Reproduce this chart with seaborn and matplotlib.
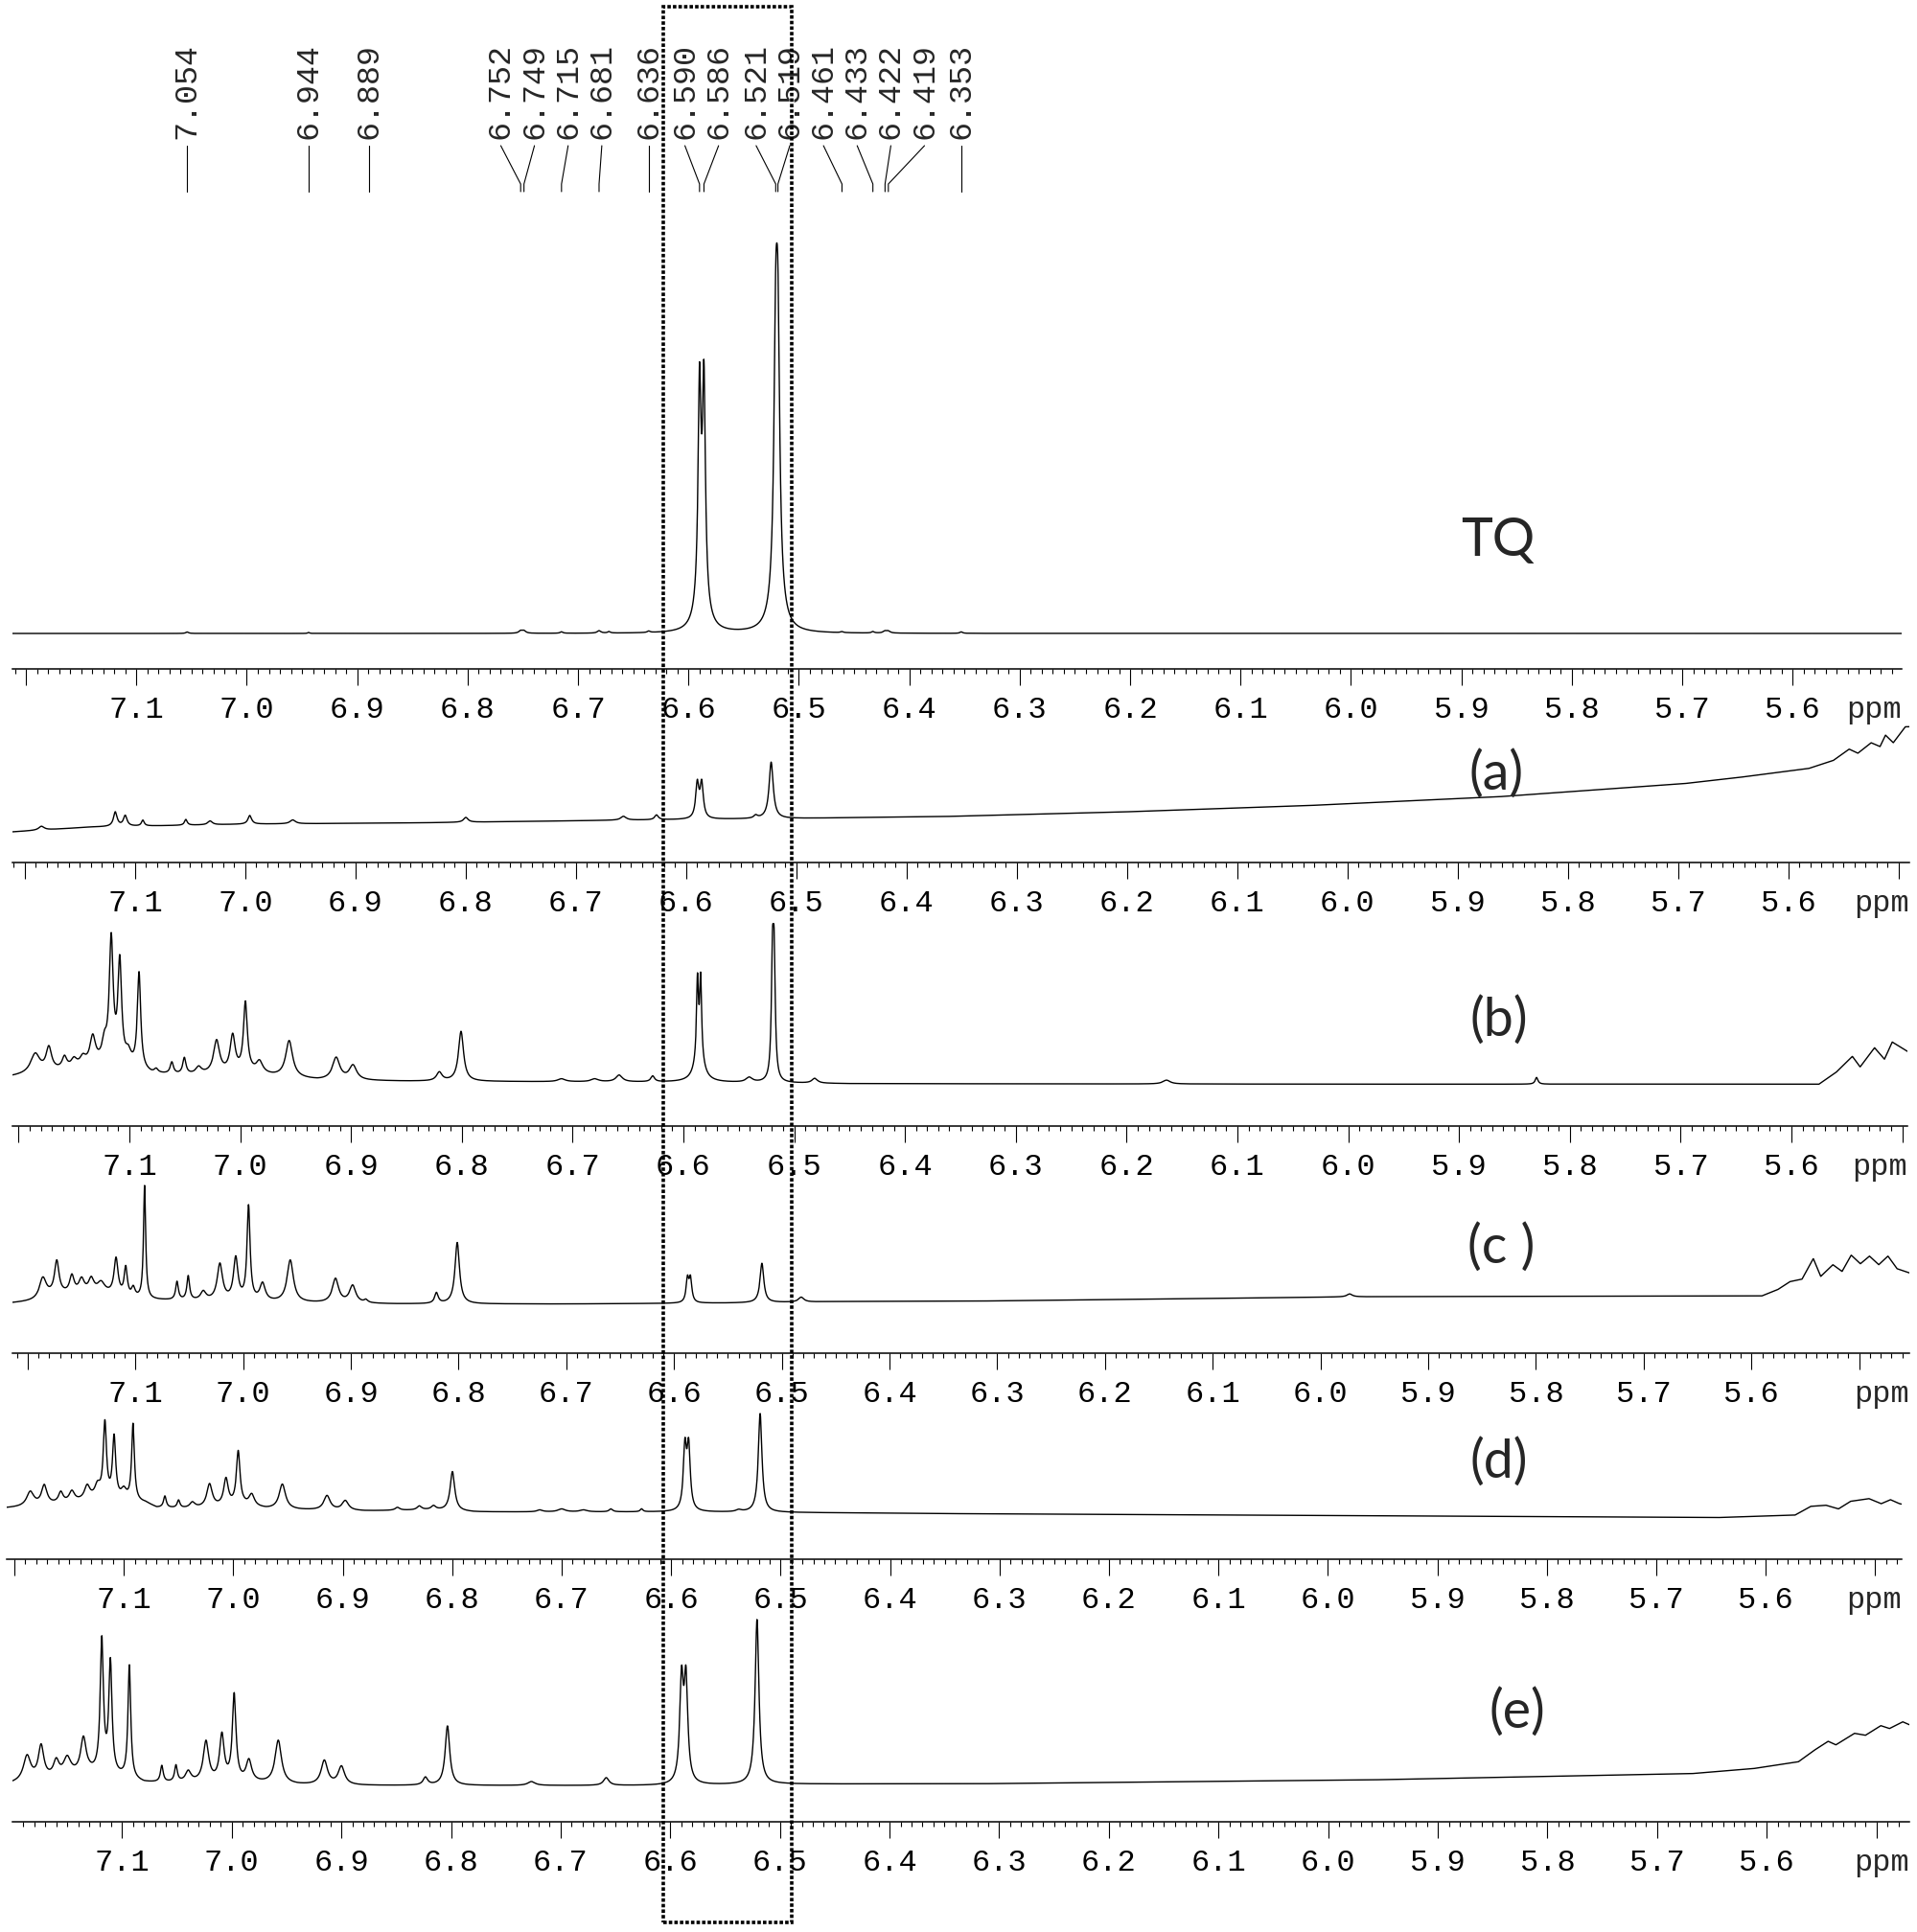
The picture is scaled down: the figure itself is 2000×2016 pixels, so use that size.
import numpy as np
import pandas as pd
import seaborn as sns
import matplotlib.pyplot as plt
from matplotlib import transforms
from matplotlib.patches import Rectangle
from matplotlib.ticker import MultipleLocator, FuncFormatter

sns.set_theme(style='white')
plt.rcParams['font.family'] = ['Liberation Mono', 'DejaVu Sans']

# peak list printed above the TQ spectrum
tq_labels = [7.054, 6.944, 6.889, 6.752, 6.749, 6.715, 6.681, 6.636, 6.590,
             6.586, 6.521, 6.519, 6.461, 6.433, 6.422, 6.419, 6.353]

# each spectrum: lines (ppm, height, FWHM in ppm) + baseline (ppm, level)
tq_ppm = [7.054, 6.944, 6.752, 6.749, 6.715, 6.681, 6.672, 6.636, 6.590, 6.586, 6.588,
          6.521, 6.519, 6.520, 6.461, 6.433, 6.422, 6.419, 6.353]
tq_height = [1.5, 1.0, 2.5, 2.5, 1.5, 2.5, 1.5, 1.5, 215, 218, 45,
             228, 228, 50, 1.0, 1.5, 2.0, 2.0, 1.5]
tq_width = [0.003, 0.002, 0.004, 0.004, 0.003, 0.004, 0.003, 0.003, 0.0031, 0.0031, 0.010,
            0.0038, 0.0038, 0.010, 0.003, 0.003, 0.004, 0.004, 0.003]
tq_base_ppm = [7.23, 5.44]
tq_base_level = [36.7, 36.7]

a_ppm = [7.185, 7.118, 7.109, 7.093, 7.054, 7.032, 6.996, 6.957, 6.800, 6.657, 6.627,
         6.590, 6.586, 6.537, 6.523]
a_height = [4, 15, 11, 6, 6, 4, 9, 4, 5, 4, 5, 36, 36, 3, 59]
a_width = [0.006, 0.004, 0.004, 0.003, 0.003, 0.005, 0.004, 0.006, 0.005, 0.006, 0.004,
           0.0035, 0.0035, 0.004, 0.0045]
a_base_ppm = [7.215, 7.14, 7.0, 6.835, 6.67, 6.5, 6.355, 6.188, 6.023, 5.857, 5.691, 5.636,
              5.581, 5.559, 5.545, 5.537, 5.525, 5.517, 5.512, 5.505, 5.494]
a_base_level = [31.7, 37, 40, 41.5, 44, 46, 48.2, 53.3, 60, 69, 82.7, 90,
                98.3, 106.7, 118.3, 114, 125, 121, 133, 125, 141.7]

b_ppm = [7.185, 7.1727, 7.1586, 7.150, 7.142, 7.1331, 7.1225, 7.1164, 7.1087, 7.101,
         7.0913, 7.0758, 7.0617, 7.0504, 7.0375, 7.0213, 7.0068, 6.9953, 6.9826, 6.9558,
         6.9134, 6.8982, 6.8203, 6.8007, 6.71, 6.68, 6.658, 6.6277,
         6.5873, 6.5844, 6.5858, 6.5406, 6.5196, 6.5181, 6.4815, 6.164, 5.830]
b_height = [20, 24, 12, 8, 8, 28, 18, 128, 105, 12,
            100, 4, 12, 17, 7, 34, 38, 72, 12, 38,
            23, 15, 9, 52, 3, 3, 7, 6,
            79, 79, 30, 5, 115, 115, 5, 4, 7]
b_width = [0.010, 0.006, 0.005, 0.006, 0.006, 0.006, 0.005, 0.0042, 0.0040, 0.006,
           0.0036, 0.004, 0.0035, 0.0035, 0.006, 0.0065, 0.0055, 0.0042, 0.007, 0.0075,
           0.008, 0.008, 0.006, 0.0055, 0.008, 0.008, 0.007, 0.004,
           0.002, 0.002, 0.009, 0.007, 0.0024, 0.0024, 0.006, 0.008, 0.003]
b_base_ppm = [7.205, 7.16, 7.14, 7.125, 7.10, 7.08, 7.05, 6.99, 6.97, 6.93, 6.85, 6.6, 6.45,
              6.0, 5.575, 5.559, 5.545, 5.538, 5.525, 5.516, 5.509, 5.495]
b_base_level = [52, 58, 62, 64, 60, 54, 53, 55, 52, 48, 47, 46, 44.5,
                44, 44, 57, 73, 62, 82, 70, 88, 78]

c_ppm = [7.186, 7.173, 7.159, 7.150, 7.141, 7.132, 7.118, 7.109, 7.102, 7.0915,
         7.0614, 7.051, 7.037, 7.0216, 7.0069, 6.995, 6.982, 6.9563, 6.9143, 6.8984,
         6.886, 6.8206, 6.8013, 6.5876, 6.5848, 6.5185, 6.482, 5.973]
c_height = [22, 34, 18, 14, 14, 10, 38, 30, 10, 118,
            19, 25, 9, 38, 44, 98, 18, 44, 25, 18,
            3, 11, 64, 24, 24, 41, 5, 3]
c_width = [0.008, 0.005, 0.005, 0.006, 0.006, 0.008, 0.0045, 0.0035, 0.004, 0.0024,
           0.003, 0.003, 0.006, 0.006, 0.005, 0.0034, 0.006, 0.007, 0.007, 0.007,
           0.004, 0.004, 0.005, 0.003, 0.003, 0.0042, 0.006, 0.006]
c_base_ppm = [7.214, 7.19, 7.175, 7.13, 7.105, 7.085, 7.05, 6.95, 6.86, 6.7, 6.55, 6.45,
              6.3, 5.973, 5.59, 5.575, 5.564, 5.553, 5.5426, 5.5357, 5.5244, 5.5159,
              5.5074, 5.4989, 5.4904, 5.4818, 5.4733, 5.4648, 5.4535]
c_base_level = [52, 54, 60, 62, 56, 55, 54, 52, 51, 51, 52, 53.5,
                54.2, 58.5, 59.5, 66.4, 74.5, 77, 98.4, 79.8, 92, 85,
                102, 93, 101, 92, 101, 87.8, 83.5]

d_ppm = [7.1855, 7.1727, 7.1576, 7.1475, 7.1335, 7.124, 7.1173, 7.1089, 7.100, 7.0916,
         7.0625, 7.050, 7.0374, 7.0217, 7.0067, 6.9955, 6.9832, 6.9552, 6.9144, 6.8977,
         6.850, 6.830, 6.817, 6.7998, 6.72, 6.70, 6.68, 6.655, 6.627,
         6.5874, 6.5840, 6.5382, 6.5187]
d_height = [15, 20, 11, 11, 14, 12, 78, 64, 10, 80,
            12, 8, 6, 24, 28, 56, 12, 26, 15, 10,
            3, 4, 4, 41, 2, 3, 2, 3, 3,
            64, 64, 2, 103]
d_width = [0.008, 0.006, 0.005, 0.006, 0.006, 0.006, 0.0035, 0.0035, 0.006, 0.003,
           0.003, 0.003, 0.006, 0.006, 0.005, 0.004, 0.006, 0.007, 0.007, 0.007,
           0.005, 0.005, 0.005, 0.005, 0.006, 0.008, 0.008, 0.004, 0.003,
           0.0035, 0.0035, 0.006, 0.004]
d_base_ppm = [7.208, 7.19, 7.15, 7.125, 7.08, 7.07, 7.04, 6.99, 6.97, 6.94, 6.88, 6.82,
              6.78, 6.6, 6.5, 6.3, 5.64, 5.573, 5.5587, 5.5447, 5.5335, 5.5223,
              5.5056, 5.4944, 5.486, 5.4777, 5.475]
d_base_level = [53, 54, 58, 62, 58, 53, 52, 55, 52, 51, 50, 51,
                49, 49, 48.5, 46.9, 43.2, 45.8, 54.9, 56, 52.2, 60.2,
                62.9, 57.6, 61.8, 57.6, 57]

e_ppm = [7.1866, 7.1738, 7.160, 7.150, 7.1352, 7.1184, 7.1106, 7.0933, 7.0637, 7.0508,
         7.0396, 7.0234, 7.0089, 6.9977, 6.9843, 6.9575, 6.9155, 6.8999, 6.8233, 6.8032,
         6.7266, 6.6584, 6.5897, 6.5857, 6.5209]
e_height = [26, 34, 16, 18, 36, 138, 116, 118, 17, 17,
            11, 42, 48, 90, 22, 45, 25, 19, 8, 62,
            4, 8, 104, 104, 172]
e_width = [0.008, 0.006, 0.006, 0.008, 0.006, 0.0035, 0.0035, 0.003, 0.003, 0.003,
           0.006, 0.006, 0.005, 0.004, 0.006, 0.007, 0.007, 0.007, 0.005, 0.005,
           0.008, 0.006, 0.004, 0.004, 0.0042]
e_base_ppm = [7.21, 7.16, 7.13, 7.10, 7.08, 7.0, 6.98, 6.94, 6.88, 6.6, 6.5, 6.3, 5.945,
              5.666, 5.61, 5.571, 5.555, 5.544, 5.537, 5.52, 5.51, 5.496, 5.488,
              5.476, 5.468]
e_base_level = [38, 45, 50, 45, 40, 40, 40, 38, 37.5, 37.5, 39, 39.5, 43.7,
                50.1, 55.5, 62.4, 75.7, 83.7, 80, 92, 90, 100, 97,
                104, 100]

panel_names = ['TQ', '(a)', '(b)', '(c )', '(d)', '(e)']
panel_data = {
    'TQ': (tq_ppm, tq_height, tq_width, tq_base_ppm, tq_base_level),
    '(a)': (a_ppm, a_height, a_width, a_base_ppm, a_base_level),
    '(b)': (b_ppm, b_height, b_width, b_base_ppm, b_base_level),
    '(c )': (c_ppm, c_height, c_width, c_base_ppm, c_base_level),
    '(d)': (d_ppm, d_height, d_width, d_base_ppm, d_base_level),
    '(e)': (e_ppm, e_height, e_width, e_base_ppm, e_base_level),
}

# layout in output pixels: x0, x1, x of 7.1 ppm, px per ppm, axis y, axes height, label x, label y
W, H = 2000, 2016
layout = {
    'TQ': (13, 1984, 142.3, 1152, 697.7, 470, 1563, 565),
    '(a)': (13, 1992, 141.0, 1150, 900.0, 170, 1561, 808),
    '(b)': (13, 1990, 135.0, 1156, 1175.3, 230, 1564, 1065),
    '(c )': (13, 1992, 141.3, 1124, 1411.7, 200, 1566, 1302),
    '(d)': (7, 1984, 129.2, 1142, 1626.7, 200, 1564, 1526),
    '(e)': (13, 1992, 127.3, 1144, 1900.7, 250, 1583, 1787),
}


def fy(px):
    return 1 - px / H


def spectrum(grid, ppm, height, width, bppm, blev):
    order = np.argsort(bppm)
    y = np.interp(grid, np.array(bppm)[order], np.array(blev)[order])
    for p, h, w in zip(ppm, height, width):
        y = y + h / (1 + ((grid - p) / (w / 2)) ** 2)
    return y


def tick_fmt(v, pos):
    if v > 7.15 or v < 5.55:
        return ''
    return f'{v:.1f}'


fig = plt.figure(figsize=(W / 100, H / 100), dpi=100)

major_len, pad = 12.2, 8
axes = {}
for name in panel_names:
    x0, x1, x71, scale, axis_y, ah, lx, ly = layout[name]
    ax = fig.add_axes([x0 / W, fy(axis_y), (x1 - x0) / W, ah / H])
    ax.patch.set_visible(False)
    left = 7.1 + (x71 - x0) / scale
    right = 7.1 - (x1 - x71) / scale
    grid = np.linspace(right, left, 9000)
    ppm, hh, ww, bp, bl = panel_data[name]
    df = pd.DataFrame({'ppm': grid, 'intensity': spectrum(grid, ppm, hh, ww, bp, bl)})
    sns.lineplot(data=df, x='ppm', y='intensity', ax=ax, color='black', lw=1.0,
                 sort=False, estimator=None)
    ax.set_xlim(left, right)
    ax.set_ylim(0, ah)
    ax.set_xlabel('')
    ax.set_ylabel('')
    for s in ['top', 'left', 'right']:
        ax.spines[s].set_visible(False)
    ax.spines['bottom'].set_color('black')
    ax.spines['bottom'].set_linewidth(1.1)
    ax.xaxis.set_major_locator(MultipleLocator(0.1))
    ax.xaxis.set_minor_locator(MultipleLocator(0.01))
    ax.xaxis.set_major_formatter(FuncFormatter(tick_fmt))
    ax.tick_params(axis='x', which='major', bottom=True, direction='out', length=major_len,
                   width=0.8, pad=pad, labelsize=23, colors='black')
    ax.tick_params(axis='x', which='minor', bottom=True, direction='out', length=3.6,
                   width=0.8, colors='black')
    ax.tick_params(axis='y', left=False, labelleft=False)
    ax.annotate('ppm', xy=(1, 0), xycoords='axes fraction', xytext=(0, -(major_len + pad)),
                textcoords='offset points', ha='right', va='top', fontsize=23)
    fig.text(lx / W, fy(ly), name, ha='center', va='center', fontsize=40,
             family=['Lato', 'DejaVu Sans'])
    axes[name] = ax

# peak labels above TQ: spread overlapping labels evenly around their mean
min_sep = 0.0305
groups = [[p] for p in tq_labels]
changed = True
while changed:
    changed = False
    spots = []
    for g in groups:
        c = np.mean(g)
        n = len(g)
        spots.append([c + (n - 1) / 2 * min_sep - i * min_sep for i in range(n)])
    for i in range(len(groups) - 1):
        if spots[i][-1] - spots[i + 1][0] < min_sep - 1e-9:
            groups[i] = groups[i] + groups[i + 1]
            del groups[i + 1]
            changed = True
            break
label_x = [x for g in groups for x in
           [np.mean(g) + (len(g) - 1) / 2 * min_sep - i * min_sep for i in range(len(g))]]

tq_ax = axes['TQ']
trans = transforms.blended_transform_factory(tq_ax.transData, fig.transFigure)
for lab, lx in zip(tq_labels, label_x):
    tq_ax.plot([lx, lab, lab], [fy(152), fy(192), fy(200)], transform=trans,
               color='black', lw=0.8, clip_on=False)
    tq_ax.text(lx, fy(145), f'{lab:.3f}', rotation=90, ha='center', va='bottom',
               transform=trans, fontsize=24, clip_on=False)

# dotted box around the 6.5-6.6 ppm signals
box = Rectangle((692 / W, fy(2006)), (826 - 692) / W, (2006 - 7) / H, transform=fig.transFigure,
                fill=False, ec='black', lw=2.6, linestyle=(0, (1.0, 0.6)))
fig.add_artist(box)

fig.savefig('out.png', dpi=100)
